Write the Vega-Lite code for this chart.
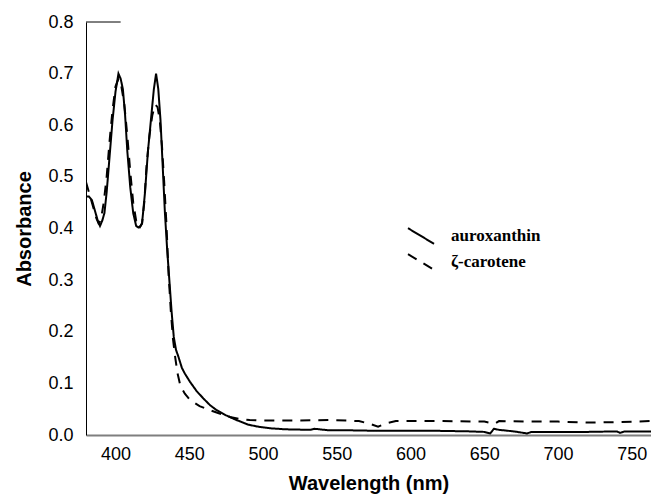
{
  "$schema": "https://vega.github.io/schema/vega-lite/v6.json",
  "autosize": {"type": "none"},
  "padding": {"left": 86, "top": 22, "right": 0, "bottom": 59},
  "width": 565,
  "height": 413,
  "background": "white",
  "config": {"view": {"stroke": null}},
  "datasets": {
    "spectra": [
      {"wl": 380, "A": 0.462, "series": "auroxanthin"},
      {"wl": 382, "A": 0.462, "series": "auroxanthin"},
      {"wl": 384, "A": 0.455, "series": "auroxanthin"},
      {"wl": 386, "A": 0.435, "series": "auroxanthin"},
      {"wl": 388, "A": 0.415, "series": "auroxanthin"},
      {"wl": 389.5, "A": 0.405, "series": "auroxanthin"},
      {"wl": 391, "A": 0.415, "series": "auroxanthin"},
      {"wl": 392.5, "A": 0.43, "series": "auroxanthin"},
      {"wl": 394, "A": 0.47, "series": "auroxanthin"},
      {"wl": 396, "A": 0.54, "series": "auroxanthin"},
      {"wl": 398, "A": 0.61, "series": "auroxanthin"},
      {"wl": 400, "A": 0.665, "series": "auroxanthin"},
      {"wl": 402, "A": 0.70, "series": "auroxanthin"},
      {"wl": 403.5, "A": 0.69, "series": "auroxanthin"},
      {"wl": 405, "A": 0.67, "series": "auroxanthin"},
      {"wl": 406.5, "A": 0.62, "series": "auroxanthin"},
      {"wl": 408, "A": 0.55, "series": "auroxanthin"},
      {"wl": 410, "A": 0.48, "series": "auroxanthin"},
      {"wl": 412, "A": 0.43, "series": "auroxanthin"},
      {"wl": 414, "A": 0.405, "series": "auroxanthin"},
      {"wl": 415.5, "A": 0.402, "series": "auroxanthin"},
      {"wl": 417, "A": 0.405, "series": "auroxanthin"},
      {"wl": 418, "A": 0.41, "series": "auroxanthin"},
      {"wl": 420, "A": 0.47, "series": "auroxanthin"},
      {"wl": 422, "A": 0.55, "series": "auroxanthin"},
      {"wl": 424, "A": 0.61, "series": "auroxanthin"},
      {"wl": 426, "A": 0.67, "series": "auroxanthin"},
      {"wl": 427.5, "A": 0.70, "series": "auroxanthin"},
      {"wl": 429, "A": 0.67, "series": "auroxanthin"},
      {"wl": 430.5, "A": 0.61, "series": "auroxanthin"},
      {"wl": 432, "A": 0.52, "series": "auroxanthin"},
      {"wl": 433.5, "A": 0.43, "series": "auroxanthin"},
      {"wl": 435, "A": 0.36, "series": "auroxanthin"},
      {"wl": 436.5, "A": 0.30, "series": "auroxanthin"},
      {"wl": 438, "A": 0.24, "series": "auroxanthin"},
      {"wl": 439.5, "A": 0.19, "series": "auroxanthin"},
      {"wl": 441, "A": 0.165, "series": "auroxanthin"},
      {"wl": 442.6, "A": 0.152, "series": "auroxanthin"},
      {"wl": 445, "A": 0.13, "series": "auroxanthin"},
      {"wl": 447, "A": 0.119, "series": "auroxanthin"},
      {"wl": 450.5, "A": 0.103, "series": "auroxanthin"},
      {"wl": 455, "A": 0.085, "series": "auroxanthin"},
      {"wl": 459.5, "A": 0.071, "series": "auroxanthin"},
      {"wl": 464, "A": 0.058, "series": "auroxanthin"},
      {"wl": 468.6, "A": 0.048, "series": "auroxanthin"},
      {"wl": 475, "A": 0.038, "series": "auroxanthin"},
      {"wl": 482, "A": 0.029, "series": "auroxanthin"},
      {"wl": 490, "A": 0.02, "series": "auroxanthin"},
      {"wl": 497, "A": 0.016, "series": "auroxanthin"},
      {"wl": 505, "A": 0.013, "series": "auroxanthin"},
      {"wl": 515, "A": 0.011, "series": "auroxanthin"},
      {"wl": 532, "A": 0.010, "series": "auroxanthin"},
      {"wl": 535, "A": 0.012, "series": "auroxanthin"},
      {"wl": 545, "A": 0.009, "series": "auroxanthin"},
      {"wl": 560, "A": 0.009, "series": "auroxanthin"},
      {"wl": 580, "A": 0.008, "series": "auroxanthin"},
      {"wl": 600, "A": 0.008, "series": "auroxanthin"},
      {"wl": 620, "A": 0.008, "series": "auroxanthin"},
      {"wl": 640, "A": 0.007, "series": "auroxanthin"},
      {"wl": 650, "A": 0.006, "series": "auroxanthin"},
      {"wl": 654, "A": 0.003, "series": "auroxanthin"},
      {"wl": 656.5, "A": 0.012, "series": "auroxanthin"},
      {"wl": 660, "A": 0.010, "series": "auroxanthin"},
      {"wl": 670, "A": 0.007, "series": "auroxanthin"},
      {"wl": 679, "A": 0.003, "series": "auroxanthin"},
      {"wl": 682, "A": 0.006, "series": "auroxanthin"},
      {"wl": 700, "A": 0.006, "series": "auroxanthin"},
      {"wl": 720, "A": 0.006, "series": "auroxanthin"},
      {"wl": 740, "A": 0.007, "series": "auroxanthin"},
      {"wl": 742, "A": 0.004, "series": "auroxanthin"},
      {"wl": 745, "A": 0.007, "series": "auroxanthin"},
      {"wl": 763, "A": 0.007, "series": "auroxanthin"},
      {"wl": 380, "A": 0.49, "series": "ζ-carotene"},
      {"wl": 381.5, "A": 0.475, "series": "ζ-carotene"},
      {"wl": 383, "A": 0.46, "series": "ζ-carotene"},
      {"wl": 385, "A": 0.44, "series": "ζ-carotene"},
      {"wl": 387, "A": 0.42, "series": "ζ-carotene"},
      {"wl": 388.5, "A": 0.41, "series": "ζ-carotene"},
      {"wl": 390, "A": 0.415, "series": "ζ-carotene"},
      {"wl": 392, "A": 0.45, "series": "ζ-carotene"},
      {"wl": 394, "A": 0.50, "series": "ζ-carotene"},
      {"wl": 396, "A": 0.57, "series": "ζ-carotene"},
      {"wl": 398, "A": 0.63, "series": "ζ-carotene"},
      {"wl": 400, "A": 0.675, "series": "ζ-carotene"},
      {"wl": 402, "A": 0.69, "series": "ζ-carotene"},
      {"wl": 404, "A": 0.675, "series": "ζ-carotene"},
      {"wl": 406, "A": 0.64, "series": "ζ-carotene"},
      {"wl": 408, "A": 0.58, "series": "ζ-carotene"},
      {"wl": 410, "A": 0.51, "series": "ζ-carotene"},
      {"wl": 412, "A": 0.45, "series": "ζ-carotene"},
      {"wl": 414, "A": 0.415, "series": "ζ-carotene"},
      {"wl": 416, "A": 0.40, "series": "ζ-carotene"},
      {"wl": 418, "A": 0.41, "series": "ζ-carotene"},
      {"wl": 419.5, "A": 0.45, "series": "ζ-carotene"},
      {"wl": 421, "A": 0.52, "series": "ζ-carotene"},
      {"wl": 423, "A": 0.58, "series": "ζ-carotene"},
      {"wl": 425, "A": 0.62, "series": "ζ-carotene"},
      {"wl": 427, "A": 0.64, "series": "ζ-carotene"},
      {"wl": 428.5, "A": 0.635, "series": "ζ-carotene"},
      {"wl": 430, "A": 0.61, "series": "ζ-carotene"},
      {"wl": 431.5, "A": 0.56, "series": "ζ-carotene"},
      {"wl": 433, "A": 0.49, "series": "ζ-carotene"},
      {"wl": 434.5, "A": 0.41, "series": "ζ-carotene"},
      {"wl": 436, "A": 0.31, "series": "ζ-carotene"},
      {"wl": 437.5, "A": 0.24, "series": "ζ-carotene"},
      {"wl": 439, "A": 0.185, "series": "ζ-carotene"},
      {"wl": 440.5, "A": 0.15, "series": "ζ-carotene"},
      {"wl": 442, "A": 0.12, "series": "ζ-carotene"},
      {"wl": 444, "A": 0.095, "series": "ζ-carotene"},
      {"wl": 447, "A": 0.08, "series": "ζ-carotene"},
      {"wl": 450.5, "A": 0.068, "series": "ζ-carotene"},
      {"wl": 457, "A": 0.056, "series": "ζ-carotene"},
      {"wl": 464, "A": 0.048, "series": "ζ-carotene"},
      {"wl": 470, "A": 0.042, "series": "ζ-carotene"},
      {"wl": 477.6, "A": 0.035, "series": "ζ-carotene"},
      {"wl": 484, "A": 0.031, "series": "ζ-carotene"},
      {"wl": 491, "A": 0.029, "series": "ζ-carotene"},
      {"wl": 500, "A": 0.028, "series": "ζ-carotene"},
      {"wl": 520, "A": 0.028, "series": "ζ-carotene"},
      {"wl": 545, "A": 0.029, "series": "ζ-carotene"},
      {"wl": 565, "A": 0.027, "series": "ζ-carotene"},
      {"wl": 572, "A": 0.022, "series": "ζ-carotene"},
      {"wl": 578, "A": 0.016, "series": "ζ-carotene"},
      {"wl": 583, "A": 0.022, "series": "ζ-carotene"},
      {"wl": 590, "A": 0.027, "series": "ζ-carotene"},
      {"wl": 620, "A": 0.027, "series": "ζ-carotene"},
      {"wl": 650, "A": 0.026, "series": "ζ-carotene"},
      {"wl": 657, "A": 0.022, "series": "ζ-carotene"},
      {"wl": 660, "A": 0.027, "series": "ζ-carotene"},
      {"wl": 680, "A": 0.026, "series": "ζ-carotene"},
      {"wl": 700, "A": 0.026, "series": "ζ-carotene"},
      {"wl": 720, "A": 0.024, "series": "ζ-carotene"},
      {"wl": 740, "A": 0.025, "series": "ζ-carotene"},
      {"wl": 763, "A": 0.027, "series": "ζ-carotene"}
    ],
    "frame": [{"x1": 380, "x2": 403.5, "y": 0.8}]
  },
  "layer": [
    {
      "data": {"name": "spectra"},
      "mark": {"type": "line", "color": "black", "strokeWidth": 2, "clip": true},
      "encoding": {
        "x": {
          "field": "wl", "type": "quantitative",
          "title": "Wavelength (nm)",
          "scale": {"domain": [380, 763], "nice": false, "zero": false},
          "axis": {
            "title": "Wavelength (nm)",
            "values": [400, 450, 500, 550, 600, 650, 700, 750],
            "grid": false, "ticks": false,
            "domainColor": "#7f7f7f", "domainWidth": 2,
            "labelFont": "Liberation Sans", "labelFontSize": 18, "labelColor": "black", "labelPadding": 10,
            "titleFont": "Liberation Sans", "titleFontSize": 20, "titleFontWeight": "bold", "titleColor": "black", "titlePadding": 10
          }
        },
        "y": {
          "field": "A", "type": "quantitative",
          "title": "Absorbance",
          "scale": {"domain": [0, 0.8], "nice": false},
          "axis": {
            "title": "Absorbance",
            "values": [0, 0.1, 0.2, 0.3, 0.4, 0.5, 0.6, 0.7, 0.8],
            "format": ".1f",
            "grid": false, "ticks": false,
            "domainColor": "black", "domainWidth": 1,
            "labelFont": "Liberation Sans", "labelFontSize": 18, "labelColor": "black", "labelPadding": 13,
            "titleFont": "Liberation Sans", "titleFontSize": 20, "titleFontWeight": "bold", "titleColor": "black", "titlePadding": 13
          }
        },
        "strokeDash": {
          "field": "series", "type": "nominal",
          "scale": {"domain": ["auroxanthin", "ζ-carotene"], "range": [[1, 0], [10, 8]]},
          "legend": {
            "title": null,
            "orient": "none",
            "legendX": 321,
            "legendY": 200,
            "padding": 0,
            "symbolType": "M-1,-0.6L1,0.6",
            "symbolSize": 676,
            "symbolStrokeWidth": 2,
            "symbolStrokeColor": "black",
            "symbolFillColor": "transparent",
            "labelFont": "Liberation Serif",
            "labelFontWeight": "bold",
            "labelFontSize": 17,
            "labelColor": "black",
            "labelOffset": 16,
            "rowPadding": -5
          }
        }
      }
    },
    {
      "data": {"name": "frame"},
      "mark": {"type": "rule", "color": "black", "strokeWidth": 1},
      "encoding": {
        "x": {"field": "x1", "type": "quantitative", "title": "Wavelength (nm)"},
        "x2": {"field": "x2"},
        "y": {"field": "y", "type": "quantitative", "title": "Absorbance"}
      }
    }
  ]
}
